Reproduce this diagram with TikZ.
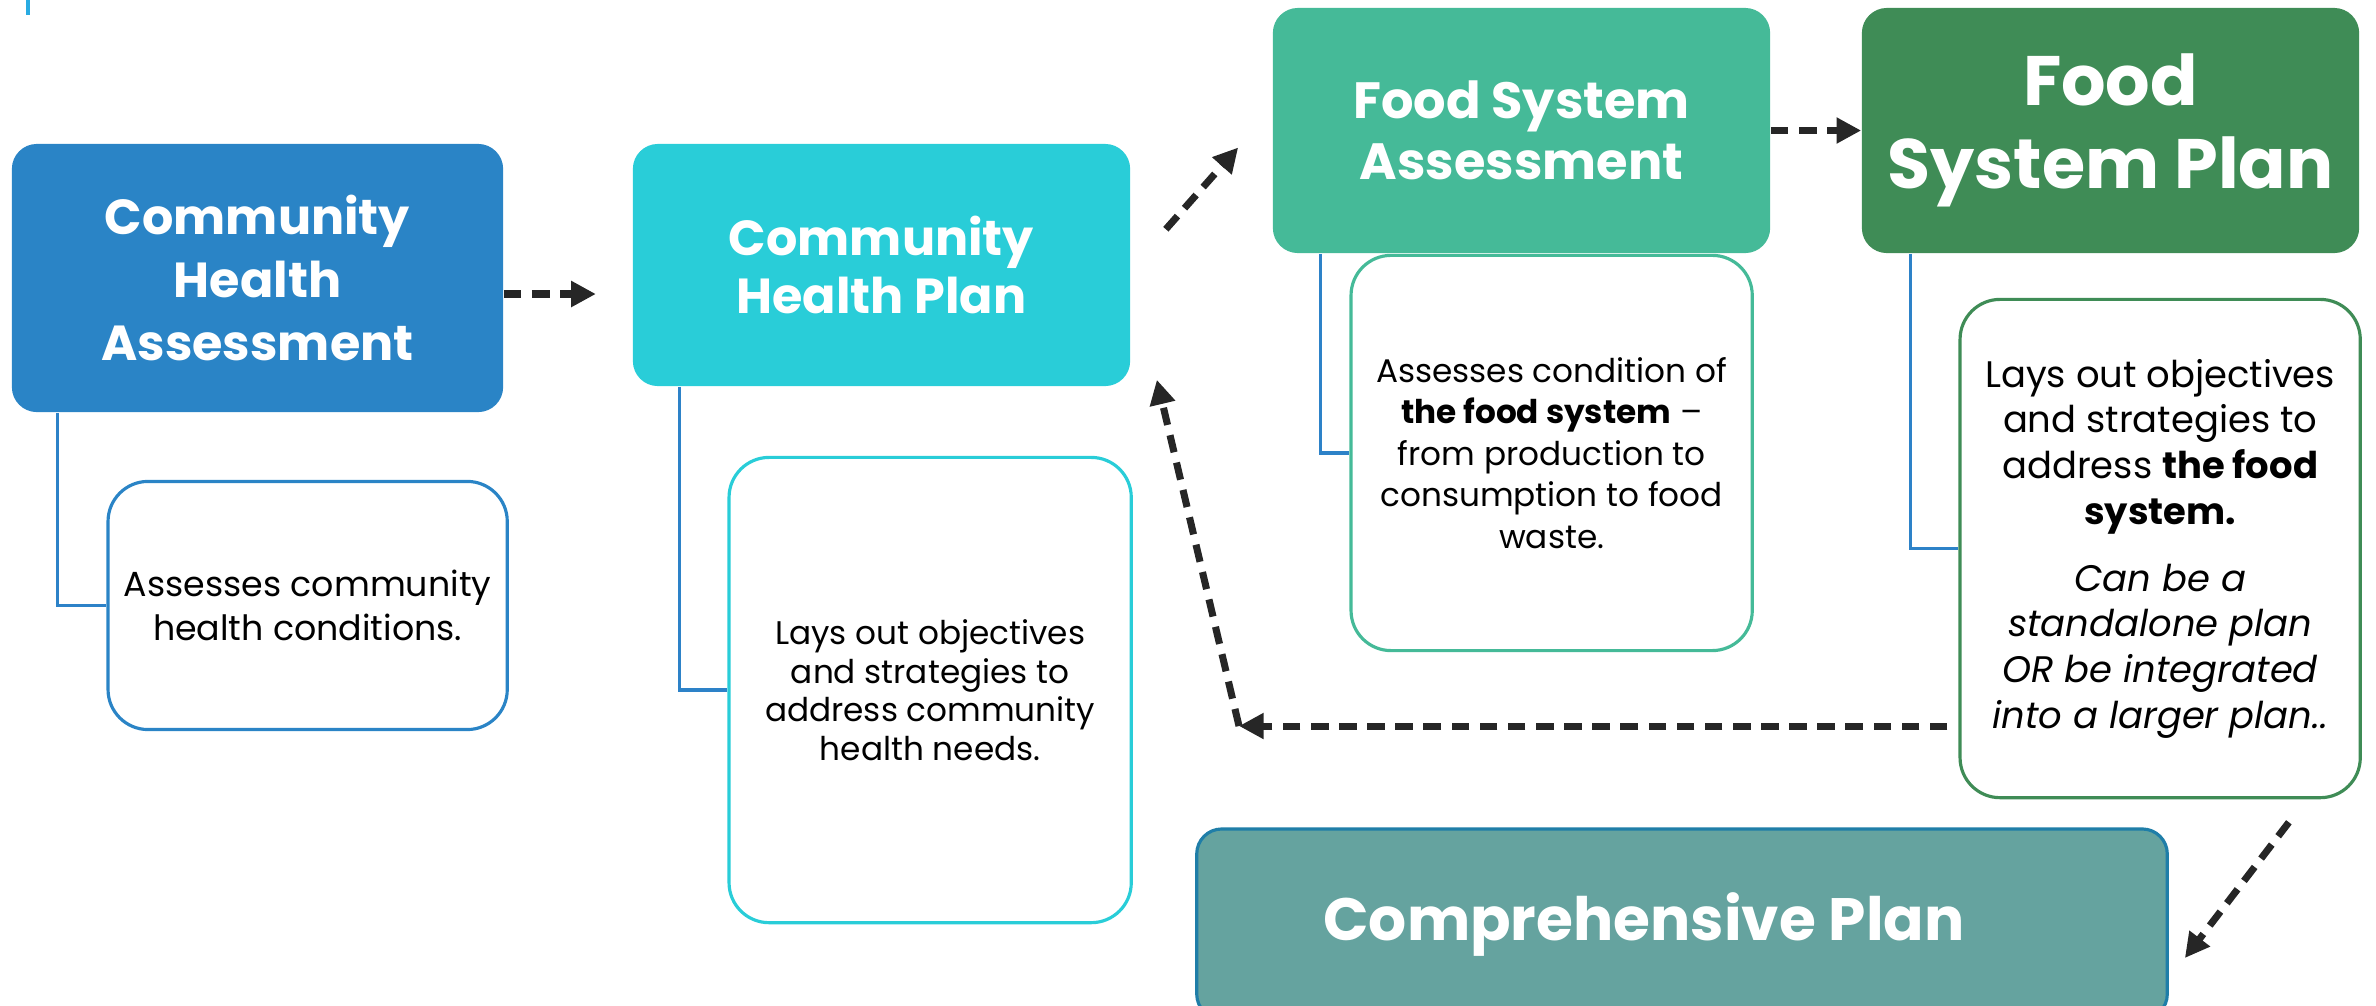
\documentclass[tikz,border=0pt]{standalone}
\usepackage{fontspec}
\setmainfont{Poppins}
\usetikzlibrary{arrows.meta,positioning,calc}
\definecolor{chablue}{HTML}{2A84C6}
\definecolor{chpcyan}{HTML}{29CDD8}
\definecolor{fsateal}{HTML}{45BA98}
\definecolor{fspgreen}{HTML}{3F8C56}
\definecolor{compteal}{HTML}{65A39F}
\definecolor{compedge}{HTML}{1F7EA8}
\definecolor{linkblue}{HTML}{2D82C8}
\definecolor{ticksky}{HTML}{29ABE2}
\definecolor{arrowdark}{HTML}{262626}

\begin{document}
\begin{tikzpicture}[x=0.01cm,y=-0.01cm,
  head/.style={rounded corners=0.25cm,text=white,align=center,inner sep=0pt,minimum width=4.97cm,minimum height=2.45cm},
  note/.style={draw,line width=0.9pt,fill=white,rounded corners=0.4cm,align=center,inner sep=0pt,minimum width=4cm},
  link/.style={draw=linkblue,line width=0.9pt},
  flow/.style={draw=arrowdark,line width=2pt,dash pattern=on 5pt off 3pt,-{Triangle[length=7pt,width=7pt]}}]
\useasboundingbox (0,0) rectangle (2376,1005);
\clip (0,0) rectangle (2376,1005);
\draw[ticksky,line width=1.2pt] (28,0) -- (28,15);

\node[head,fill=chablue,minimum width=4.91cm,minimum height=2.68cm,font=\fontsize{14}{17.8}\selectfont\bfseries] (cha) at (257.5,278) {Community\\Health\\Assessment};
\node[note,draw=chablue,minimum width=3.99cm,minimum height=2.48cm,font=\fontsize{9.9}{12.6}\selectfont,below left=0.67cm and -0.05cm of cha.south east] (chad) {Assesses community\\health conditions.};

\node[head,fill=chpcyan,minimum height=2.42cm,font=\fontsize{14}{16.4}\selectfont\bfseries] (chp) at (881.5,265) {Community\\Health Plan};
\node[note,draw=chpcyan,minimum width=4.02cm,minimum height=4.65cm,font=\fontsize{9.3}{11}\selectfont,below left=0.69cm and -0.02cm of chp.south east] (chpd) {Lays out objectives\\and strategies to\\address community\\health needs.};

\node[head,fill=fsateal,font=\fontsize{14.5}{17.4}\selectfont\bfseries] (fsa) at (1521.5,130.5) {Food System\\Assessment};
\node[note,draw=fsateal,minimum width=4.01cm,minimum height=3.95cm,font=\fontsize{9.3}{11.8}\selectfont,below left=0cm and 0.17cm of fsa.south east] (fsad) {Assesses condition of\\\textbf{the food system} --\\from production to\\consumption to food\\waste.};

\node[head,fill=fspgreen,font=\fontsize{19.9}{23.6}\selectfont\bfseries] (fsp) at (2110.5,130.5) {Food\\System Plan};
\node[note,draw=fspgreen,minimum height=4.98cm,font=\fontsize{10.5}{13}\selectfont,below left=0.44cm and -0.02cm of fsp.south east] (fspd) {Lays out objectives\\and strategies to\\address \textbf{the food}\\\textbf{system.}\\[6pt]\itshape Can be a\\\itshape standalone plan\\\itshape OR be integrated\\\itshape into a larger plan..};

\node[head,fill=compteal,draw=compedge,line width=0.9pt,minimum width=9.7cm,minimum height=1.9cm,font=\fontsize{17}{20}\selectfont\bfseries] (comp) at (1682,924) {Comprehensive Plan\hspace*{0.76cm}};

\draw[link] ($(cha.south west)+(46,0)$) |- (chad.west);
\draw[link] ($(chp.south west)+(47,0)$) |- (chpd.west);
\draw[link] ($(fsa.south west)+(48,0)$) |- (fsad.west);
\draw[link] ($(fsp.south west)+(49,0)$) |- (fspd.west);

\coordinate (turn) at (1239,726);
\draw[flow] ($(cha.east)+(0,16)$) -- ++(92,0);
\draw[flow] ($(chp.north east)+(35,86)$) -- ($(fsa.west)+(-34,17)$);
\draw[flow] (fsa.east) -- (fsp.west);
\draw[flow] ($(fspd.west |- turn)+(-11,0)$) -- (turn);
\draw[flow] (turn) -- ($(chp.south east)+(26,-7)$);
\draw[flow] ($(fspd.south east)+(-73,23)$) -- ($(comp.east)+(16,34)$);
\end{tikzpicture}
\end{document}
